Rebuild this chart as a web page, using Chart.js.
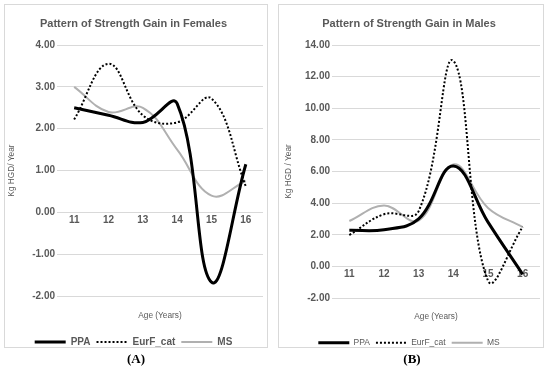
<!DOCTYPE html>
<html>
<head>
<meta charset="utf-8">
<script src="https://cdn.jsdelivr.net/npm/chart.js@4.4.0/dist/chart.umd.min.js"></script>
<style>
  body { margin: 0; background: #fff; width: 550px; height: 368px; position: relative; overflow: hidden; }
  .panel { position: absolute; top: 4px; height: 344px; border: 1px solid #d9d9d9; box-sizing: border-box; }
  .panel canvas { position: absolute; left: -1px; top: 0; }
  .tag { position: absolute; top: 351px; font: bold 13px "Liberation Serif", serif; color: #000; width: 40px; text-align: center; }
</style>
</head>
<body>
<div class="panel" style="left:4px;width:264px"><canvas id="femChart" width="264" height="352"></canvas></div>
<div class="panel" style="left:278px;width:266px"><canvas id="maleChart" width="266" height="352"></canvas></div>
<div class="tag" style="left:116px">(A)</div>
<div class="tag" style="left:392px">(B)</div>
<script>
const ages = ['11', '12', '13', '14', '15', '16'];
const seriesNames = ['PPA', 'EurF_cat', 'MS'];

const femalePPA = [2.50, 2.32, 2.15, 2.60, -1.67, 1.15];
const femaleEurF = [2.22, 3.55, 2.32, 2.15, 2.72, 0.62];
const femaleMS = [3.00, 2.40, 2.50, 1.50, 0.40, 0.75];

const malePPA = [2.28, 2.32, 3.00, 6.35, 2.80, -0.50];
const maleEurF = [1.98, 3.30, 3.50, 13.00, -0.90, 2.50];
const maleMS = [2.87, 3.85, 2.90, 6.45, 3.70, 2.49];

const textGray = '#595959';
const gridGray = '#d9d9d9';
const fontFam = '"Liberation Sans", Arial, sans-serif';

function makeChart(id, cfg) {
    const ctx = document.getElementById(id).getContext('2d');
    return new Chart(ctx, {
        type: 'line',
        data: {
            labels: ages,
            datasets: [
                { label: seriesNames[0], data: cfg.ppa, borderColor: '#000', backgroundColor: '#000', borderWidth: 3, tension: cfg.tension, pointRadius: 0 },
                { label: seriesNames[1], data: cfg.eurf, borderColor: '#000', backgroundColor: '#000', borderWidth: 2, borderDash: [2, 2], tension: cfg.tension, pointRadius: 0 },
                { label: seriesNames[2], data: cfg.ms, borderColor: '#b0b0b0', backgroundColor: '#b0b0b0', borderWidth: 2, tension: cfg.tension, pointRadius: 0 }
            ]
        },
        options: {
            responsive: false,
            animation: false,
            layout: { padding: { left: 0, right: cfg.padRight, top: 0, bottom: 0 } },
            plugins: {
                title: {
                    display: true,
                    text: cfg.title,
                    color: textGray,
                    font: { family: fontFam, size: 11, weight: 'bold' },
                    padding: { top: 12.7, bottom: 14.1 }
                },
                legend: {
                    position: 'bottom',
                    labels: {
                        boxWidth: 31,
                        boxHeight: 0,
                        padding: 6,
                        color: textGray,
                        font: { family: fontFam, size: cfg.legendSize, weight: cfg.legendWeight }
                    }
                },
                tooltip: { enabled: false }
            },
            scales: {
                x: {
                    type: 'category',
                    position: { y: 0 },
                    offset: true,
                    grid: { display: false, drawTicks: false },
                    border: { display: false },
                    ticks: { color: textGray, padding: 2, font: { family: fontFam, size: 10, weight: 'bold' } }
                },
                xt: {
                    type: 'category',
                    position: 'bottom',
                    offset: true,
                    grid: { display: false, drawTicks: false },
                    border: { display: false },
                    ticks: { display: false },
                    title: {
                        display: true,
                        text: 'Age (Years)',
                        color: textGray,
                        font: { family: fontFam, size: 8.3 },
                        padding: { top: cfg.xTitleTop, bottom: cfg.xTitleBottom }
                    }
                },
                y: {
                    min: cfg.yMin,
                    max: cfg.yMax,
                    grid: { color: gridGray, drawTicks: false },
                    border: { display: false },
                    ticks: {
                        stepSize: cfg.step,
                        padding: 2,
                        color: textGray,
                        font: { family: fontFam, size: 10, weight: 'bold' },
                        callback: v => v.toFixed(2)
                    },
                    title: {
                        display: true,
                        text: cfg.yTitle,
                        color: textGray,
                        font: { family: fontFam, size: 8.3 },
                        padding: { top: cfg.yTitlePad, bottom: 0 }
                    },
                    afterFit: s => { s.width = cfg.yWidth; }
                }
            }
        }
    });
}

makeChart('femChart', {
    title: 'Pattern of Strength Gain in Females',
    ppa: femalePPA, eurf: femaleEurF, ms: femaleMS,
    yMin: -2, yMax: 4, step: 1,
    yTitle: 'Kg HGD/ Year',
    yWidth: 53, yTitlePad: 3, padRight: 5,
    xTitleTop: 15, xTitleBottom: 10, legendSize: 10, legendWeight: 'bold',
    tension: 0.4
});

makeChart('maleChart', {
    title: 'Pattern of Strength Gain in Males',
    ppa: malePPA, eurf: maleEurF, ms: maleMS,
    yMin: -2, yMax: 14, step: 2,
    yTitle: 'Kg HGD / Year',
    yWidth: 54, yTitlePad: 5.5, padRight: 4,
    xTitleTop: 14, xTitleBottom: 10.5, legendSize: 8.5, legendWeight: 'normal',
    tension: 0.4
});
</script>
</body>
</html>
